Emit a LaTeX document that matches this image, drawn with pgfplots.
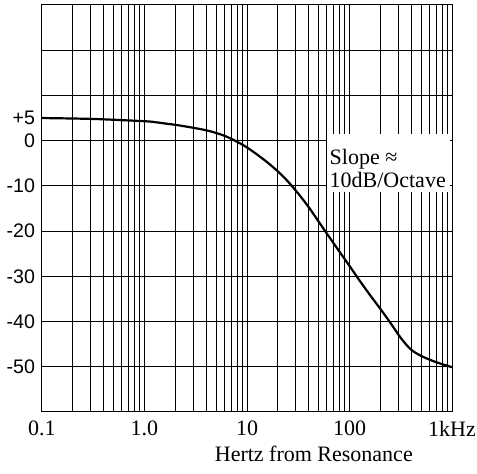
\documentclass[border=0pt]{standalone}
\usepackage{fontspec}
\setmainfont{Liberation Serif}
\newfontfamily\ysans{Liberation Sans}
\usepackage{pgfplots}
\pgfplotsset{compat=1.18}

\pgfplotstableread{
f     db
0.1   5.0
0.316 4.8
1     4.3
1.26  4.1
1.58  3.8
2     3.5
2.5   3.15
3.16  2.75
4     2.3
5     1.7
6.3   0.9
7.94 -0.2
10   -1.5
12.6 -3.1
15.8 -4.8
20   -6.8
25   -9.0
31.6 -11.7
40   -14.7
50   -17.9
63   -21.2
79   -24.4
100  -27.7
126  -31.0
158  -34.1
200  -37.2
251  -40.3
316  -43.6
398  -46.2
501  -47.6
631  -48.6
794  -49.4
1000 -50.1
}\response

\begin{document}
\begin{tikzpicture}
\begin{axis}[
    scale only axis,
    width=205pt, height=203.5pt,
    xmode=log, log basis x=10,
    xmin=0.1, xmax=1000,
    ymin=-60, ymax=30,
    xtick={0.1,1,10,100,1000},
    xticklabels={0.1,1.0,10,100,1kHz},
    minor xtick={0.2,0.3,0.4,0.5,0.6,0.7,0.8,0.9,2,3,4,5,6,7,8,9,20,30,40,50,60,70,80,90,200,300,400,500,600,700,800,900},
    ytick={-60,-50,...,30},
    yticklabels={,-50,-40,-30,-20,-10,0,,,},
    extra y ticks={5},
    extra y tick labels={+5},
    extra y tick style={grid=none},
    grid=both,
    major grid style={black, line width=0.5pt},
    minor grid style={black, line width=0.45pt},
    axis line style={black, line width=0.5pt},
    major tick length=0pt, minor tick length=0pt,
    xticklabel style={font=\fontsize{11}{13}\selectfont, yshift=-1pt},
    yticklabel style={font=\ysans\fontsize{9.8}{11}\selectfont},
    xlabel={Hertz from Resonance},
    xlabel style={font=\fontsize{11}{13}\selectfont, at={(axis description cs:0.663,0)}, anchor=base, yshift=-25pt},
]
\addplot[black, line width=1.1pt, smooth] table[x=f, y=db] {\response};

% white box behind the note
\fill[white] (axis cs:60,1.5) rectangle (axis cs:950,-11.3);
\node[anchor=base west, inner sep=0pt, font=\fontsize{11}{13}\selectfont] at (axis cs:63.5,-5.3) {Slope ≈};
\node[anchor=base west, inner sep=0pt, font=\fontsize{11}{13}\selectfont] at (axis cs:63.5,-10.4) {10dB/Octave};

\coordinate (sw) at (rel axis cs:0,0);
\coordinate (ne) at (rel axis cs:1,1);
\end{axis}
\pgfresetboundingbox
\path ([shift={(-21pt,-31pt)}]sw) rectangle ([shift={(12.5pt,2.5pt)}]ne);
\end{tikzpicture}
\end{document}
